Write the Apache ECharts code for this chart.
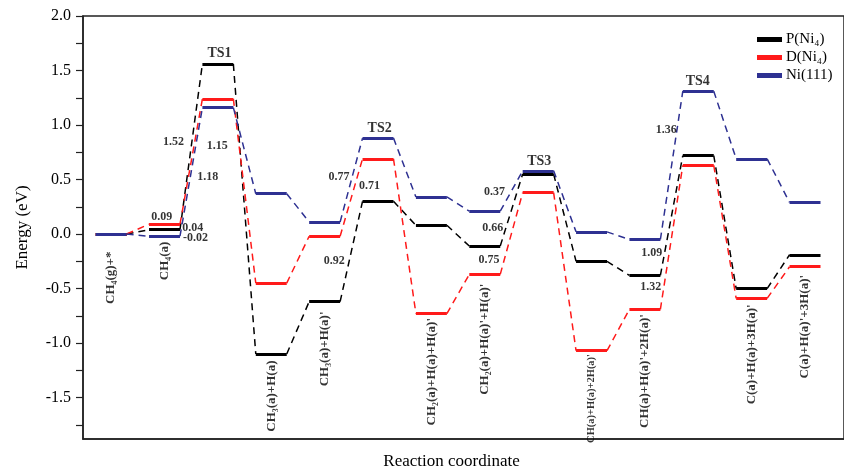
<!DOCTYPE html>
<html>
<head>
<meta charset="utf-8">
<script src="https://cdn.jsdelivr.net/npm/echarts@6/dist/echarts.min.js"></script>
<style>html,body{margin:0;padding:0;background:#fff}#c{width:844px;height:475px}</style>
</head>
<body>
<div id="c"></div>
<script>
// ---- data ----
const seriesNames = ['P(Ni₄)', 'D(Ni₄)', 'Ni(111)'];
const seriesColors = ['#000000', '#ff1a1a', '#2e3192'];
const pNi4  = [0, 0.04, 1.56, -1.10, -0.62, 0.30, 0.08, -0.11, 0.55, -0.25, -0.38, 0.72, -0.50, -0.19];
const dNi4  = [0, 0.09, 1.24, -0.45, -0.02, 0.69, -0.73, -0.37, 0.38, -1.07, -0.69, 0.63, -0.59, -0.30];
const ni111 = [0, -0.02, 1.16, 0.37, 0.11, 0.88, 0.34, 0.21, 0.58, 0.02, -0.05, 1.31, 0.69, 0.29];

const catLabels = ['CH₄(g)+*', 'CH₄(a)', 'CH₃(a)+H(a)', "CH₃(a)+H(a)'", "CH₂(a)+H(a)+H(a)'",
  "CH₂(a)+H(a)'+H(a)'", "CH(a)+H(a)+2H(a)'", "CH(a)+H(a)'+2H(a)'", "C(a)+H(a)+3H(a)'", "C(a)+H(a)'+3H(a)'"];
const catIndex = [0, 1, 3, 4, 6, 7, 9, 10, 12, 13];
const catTop = [-0.16, -0.07, -1.16, -0.71, -0.77, -0.455, -1.10, -0.735, -0.645, -0.375];
const catFont = [13, 13, 13, 13, 13, 13, 10.5, 13, 13, 13];

const annotText = ['TS1', 'TS2', 'TS3', 'TS4', '0.09', '0.04', '-0.02', '1.52', '1.15', '1.18',
  '0.77', '0.71', '0.92', '0.37', '0.66', '0.75', '1.09', '1.32', '1.36'];
const annotX = [2.03, 5.03, 8.02, 10.99, 0.95, 1.53, 1.58, 1.17, 1.99, 1.81,
  4.27, 4.84, 4.18, 7.18, 7.15, 7.08, 10.13, 10.11, 10.40];
const annotY = [1.66, 0.965, 0.664, 1.40, 0.161, 0.057, -0.036, 0.845, 0.809, 0.525,
  0.525, 0.443, -0.245, 0.391, 0.055, -0.239, -0.17, -0.488, 0.955];

const yLabelValues = [-1.5, -1.0, -0.5, 0.0, 0.5, 1.0, 1.5, 2.0];
const yTickValues = [-1.75, -1.5, -1.25, -1.0, -0.75, -0.5, -0.25, 0, 0.25, 0.5, 0.75, 1.0, 1.25, 1.5, 1.75, 2.0];

// ---- build ----
const HW = 0.29;
const FONT = '"Liberation Serif", "Times New Roman", serif';
const allData = [pNi4, dNi4, ni111];
const series = [];
allData.forEach((vals, s) => {
  const col = seriesColors[s];
  series.push({
    name: seriesNames[s], type: 'lines', coordinateSystem: 'cartesian2d', silent: true, z: 3 + s,
    lineStyle: { color: col, width: 1.5, type: [7, 5], opacity: 1 },
    data: vals.slice(0, -1).map((v, i) => ({ coords: [[i + HW, v], [i + 1 - HW, vals[i + 1]]] }))
  });
  series.push({
    name: seriesNames[s], type: 'lines', coordinateSystem: 'cartesian2d', silent: true, z: 6 + s,
    lineStyle: { color: col, width: 3, type: 'solid', opacity: 1 },
    data: vals.map((v, i) => ({ coords: [[i - HW, v], [i + HW, v]] }))
  });
});
series.push({
  type: 'scatter', symbolSize: 0, silent: true, z: 10,
  data: catLabels.map((t, k) => ({
    value: [catIndex[k], catTop[k]],
    label: { show: true, formatter: t, position: [0, 0], rotate: 90, align: 'right', verticalAlign: 'middle',
      fontFamily: FONT, fontWeight: 'bold', fontSize: catFont[k], color: '#000' }
  }))
});
series.push({
  type: 'scatter', symbolSize: 0, silent: true, z: 10,
  data: annotText.map((t, k) => ({
    value: [annotX[k], annotY[k]],
    label: { show: true, formatter: t, position: [0, 0], align: 'center', verticalAlign: 'middle',
      fontFamily: FONT, fontWeight: 'bold', fontSize: t.startsWith('TS') ? 14 : 12, color: '#000' }
  }))
});

const chart = echarts.init(document.getElementById('c'), null, { renderer: 'canvas' });
chart.setOption({
  animation: false,
  backgroundColor: '#fff',
  grid: { left: 83, right: -10, top: 16, bottom: 31, show: true, borderColor: '#222', borderWidth: 1.5, backgroundColor: 'transparent' },
  legend: {
    orient: 'vertical', left: 752, top: 27, itemGap: 3, itemWidth: 23, itemHeight: 3, icon: 'rect',
    textStyle: { fontFamily: FONT, fontSize: 15, color: '#000' },
    data: seriesNames.map((n, i) => ({ name: n, itemStyle: { color: seriesColors[i] } }))
  },
  xAxis: {
    type: 'value', min: -0.527, max: 13.73,
    name: 'Reaction coordinate', nameLocation: 'middle', nameGap: 14,
    nameTextStyle: { fontFamily: FONT, fontSize: 17, color: '#000', padding: [0, 24, 0, 0] },
    axisLine: { show: true, onZero: false, lineStyle: { color: '#222', width: 1.5 } },
    axisTick: { show: false }, axisLabel: { show: false }, splitLine: { show: false }
  },
  yAxis: {
    type: 'value', min: -1.88, max: 2.0,
    name: 'Energy (eV)', nameLocation: 'middle', nameGap: 52, nameRotate: 90,
    nameTextStyle: { fontFamily: FONT, fontSize: 17, color: '#000' },
    axisLine: { show: true, onZero: false, lineStyle: { color: '#222', width: 1.5 } },
    axisTick: { show: true, inside: false, length: 7, customValues: yTickValues, lineStyle: { color: '#222', width: 1.2 } },
    axisLabel: { show: true, margin: 12, customValues: yLabelValues, fontFamily: FONT, fontSize: 16, color: '#000',
      formatter: v => v.toFixed(1) },
    splitLine: { show: false }
  },
  series: series
});
</script>
</body>
</html>
